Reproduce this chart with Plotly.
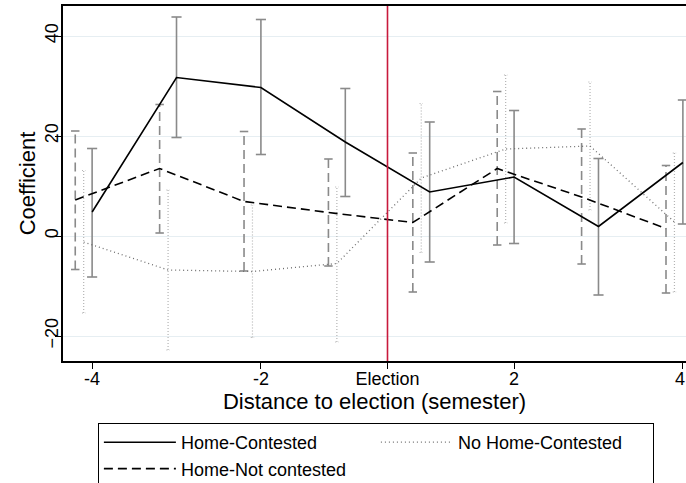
import plotly.graph_objects as go

# ---- data ----
semester = [-4, -3, -2, -1, 1, 2, 3, 4]

hc_coef = [4.8, 31.7, 29.7, 18.8, 8.8, 11.8, 1.9, 14.7]
hc_lo = [-8.2, 19.7, 16.3, 7.9, -5.2, -1.5, -11.8, 2.4]
hc_hi = [17.5, 43.8, 43.3, 29.5, 22.8, 25.1, 15.5, 27.2]

hn_coef = [7.2, 13.5, 6.9, 4.7, 2.7, 13.5, 7.8, 1.5]
hn_lo = [-6.7, 0.6, -7.0, -6.0, -11.2, -1.8, -5.6, -11.4]
hn_hi = [21.0, 26.3, 20.9, 15.4, 16.6, 28.9, 21.4, 14.1]

nh_coef = [-1.2, -6.8, -7.1, -5.5, 11.6, 17.4, 18.0, 2.8]
nh_lo = [-15.4, -22.8, -20.3, -21.2, -3.3, 2.6, 5.2, -11.2]
nh_hi = [13.1, 9.2, 6.2, 9.8, 26.5, 32.2, 30.8, 16.6]

xtick_vals_sem = [-4, -2, 0, 2, 4]
xtick_text = ["-4", "-2", "Election", "2", "4"]
ytick_vals = [-20, 0, 20, 40]


# axis position: semesters on either side of the election, election at 0
def pos(s):
    if s == 0:
        return 0.0
    return s - 0.5 if s > 0 else s + 0.5


FONT = "Liberation Sans, Arial, Helvetica, sans-serif"
fig = go.Figure()


def errbars(xs, lo, hi, offset, cap, color, dash, width):
    ex, ey = [], []
    for s, l, h in zip(xs, lo, hi):
        x = pos(s) + offset
        ex += [x, x, None, x - cap, x + cap, None, x - cap, x + cap, None]
        ey += [l, h, None, l, l, None, h, h, None]
    fig.add_trace(go.Scatter(x=ex, y=ey, mode="lines", showlegend=False,
                             hoverinfo="skip",
                             line=dict(color=color, width=width, dash=dash)))


errbars(semester, hn_lo, hn_hi, -0.2, 0.05, "#8a8a8a", "9px,5px", 1.6)
errbars(semester, nh_lo, nh_hi, -0.1, 0.02, "#b4b4b4", "1px,2px", 1.2)
errbars(semester, hc_lo, hc_hi, 0.0, 0.06, "#8a8a8a", "solid", 1.6)

fig.add_trace(go.Scatter(x=[pos(s) for s in semester], y=hc_coef, mode="lines",
                         name="Home-Contested", legendrank=1,
                         line=dict(color="black", width=1.6)))
fig.add_trace(go.Scatter(x=[pos(s) - 0.1 for s in semester], y=nh_coef, mode="lines",
                         name="No Home-Contested", legendrank=2,
                         line=dict(color="#6e6e6e", width=1.3, dash="1px,3px")))
fig.add_trace(go.Scatter(x=[pos(s) - 0.2 for s in semester], y=hn_coef, mode="lines",
                         name="Home-Not contested", legendrank=3,
                         line=dict(color="black", width=1.6, dash="9px,5px")))

fig.add_shape(type="line", xref="x", yref="paper", x0=0, x1=0, y0=0, y1=1,
              line=dict(color="#c8193c", width=1.6), layer="above")

# last tick label sits at the right edge: right-align it so it stays inside
fig.add_annotation(x=pos(xtick_vals_sem[-1]), xref="x", xanchor="right", xshift=3,
                   y=-0.052, yref="paper", yanchor="middle", showarrow=False,
                   text=xtick_text[-1], font=dict(size=18), borderpad=0)

fig.update_layout(
    width=686, height=483,
    margin=dict(l=63, r=0, t=6, b=122, autoexpand=False),
    paper_bgcolor="white", plot_bgcolor="white",
    font=dict(family=FONT, size=18, color="black"),
    showlegend=True,
    legend=dict(orientation="h", x=0.056, xanchor="left", y=-0.1746, yanchor="top",
                entrywidth=190, entrywidthmode="pixels",
                bordercolor="black", borderwidth=1, bgcolor="white",
                font=dict(size=18), traceorder="normal", itemwidth=72),
)
fig.update_xaxes(range=[-3.845, 3.537], tickmode="array", automargin=False,
                 tickvals=[pos(s) for s in xtick_vals_sem],
                 ticktext=xtick_text[:-1] + [""],
                 showgrid=False, zeroline=False, showline=True, linecolor="black",
                 linewidth=1.5, mirror=True, ticks="outside", ticklen=6,
                 tickcolor="black", tickwidth=1.2, ticklabelstandoff=-5,
                 title=dict(text="Distance to election (semester)", standoff=0))
fig.update_yaxes(range=[-25, 46], tickmode="array", tickvals=ytick_vals,
                 automargin=False,
                 showgrid=True, gridcolor="#e6eef2", gridwidth=1.2, zeroline=False,
                 showline=True, linecolor="black", linewidth=1.5, mirror=False,
                 ticks="outside", ticklen=6, tickcolor="black", tickwidth=1.2,
                 tickangle=-90, ticklabelstandoff=-10,
                 title=dict(text="Coefficient", standoff=0))

fig.write_html("out.html", config={"displayModeBar": False},
               post_script="document.body.style.margin='0';")
